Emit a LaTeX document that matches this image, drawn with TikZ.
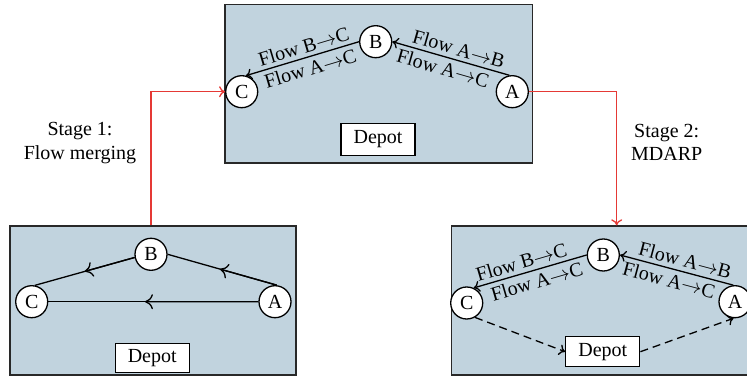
\documentclass[tikz,border=0pt]{standalone}
\usepackage{fontspec}
\setmainfont{Liberation Serif}
\usetikzlibrary{arrows.meta,calc}
\definecolor{panelfill}{RGB}{193,211,222}
\definecolor{stagered}{RGB}{229,57,53}
\definecolor{rim}{RGB}{40,40,40}
% arrow between flow end points
\newcommand{\fto}{$\to$}

\begin{document}
\begin{tikzpicture}[x=1pt,y=-1pt,
  every node/.style={font=\fontsize{20}{23.5}\selectfont},
  tip/.tip={To[length=6pt,width=11pt]},
  bigtip/.tip={To[length=8pt,width=15pt]},
  panelbox/.style={draw=rim,line width=1.4pt,fill=panelfill,inner sep=0pt},
  town/.style={circle,draw=black,line width=1.3pt,fill=white,minimum size=32pt,inner sep=0pt},
  depotbox/.style={draw=black,line width=1.3pt,fill=white,minimum width=74pt,minimum height=30pt,inner sep=0pt},
  flow/.style={line width=1.3pt},
  flowto/.style={flow,-{tip}},
  halfway/.style={flow,-{bigtip}},
  trip/.style={line width=1.3pt,dash pattern=on 8pt off 5pt,-{tip}},
  stage/.style={line width=1.3pt,draw=stagered,-{tip}},
  lbl/.style={sloped,inner sep=3.8pt},
]
\useasboundingbox (0,0) rectangle (747,379);
\clip (0,0) rectangle (747,379);

% ---------- merged flows (top panel) ----------
\node[panelbox,minimum width=307.7pt,minimum height=158.3pt] (top) at (378.8,83.8) {};
\node[town] (C0) at (241.7,91.7) {C};
\node[town] (B0) at (375.7,41.7) {B};
\node[town] (A0) at (512.3,91.7) {A};
\node[depotbox,minimum height=32pt] (D0) at (378,139.5) {Depot};
\draw[flowto] (B0.west) -- node[lbl,above,pos=0.46] {Flow B\fto C}
                           node[lbl,below,pos=0.46] {Flow A\fto C} (C0.75);
\draw[flowto] (A0.100) -- node[lbl,above,pos=0.46] {Flow A\fto B}
                          node[lbl,below,pos=0.54] {Flow A\fto C} (B0.east);

% ---------- original flows (bottom left panel) ----------
\node[panelbox,minimum width=286pt,minimum height=149pt] (left) at (153,300.5) {};
\node[town] (C1) at (31.7,301.7) {C};
\node[town] (B1) at (151,254.3) {B};
\node[town] (A1) at (275,301.7) {A};
\node[depotbox,minimum height=29pt] (D1) at (152.2,357.8) {Depot};
\draw[flow] (B1.191) -- (C1.79);
\draw[halfway] (B1.191) -- ($(B1.191)!0.5!(C1.79)$);
\draw[flow] (A1.84) -- (B1.east);
\draw[halfway] (A1.84) -- ($(A1.84)!0.52!(B1.east)$);
\draw[flow] (A1.west) -- (C1.east);
\draw[halfway] (A1.west) -- ($(A1.west)!0.54!(C1.east)$);

% ---------- routed vehicles (bottom right panel) ----------
\node[panelbox,minimum width=302pt,minimum height=149pt] (right) at (602.7,300.5) {};
\node[town] (C2) at (466.7,303) {C};
\node[town] (B2) at (603.3,255) {B};
\node[town] (A2) at (735,301.7) {A};
\node[depotbox] (D2) at (602.8,351.7) {Depot};
\draw[flowto] (B2.west) -- node[lbl,above,pos=0.55] {Flow B\fto C}
                           node[lbl,below,pos=0.47] {Flow A\fto C} (C2.65);
\draw[flowto] (A2.96) -- node[lbl,above,pos=0.45] {Flow A\fto B}
                         node[lbl,below,pos=0.54] {Flow A\fto C} (B2.east);
\draw[trip] (C2.-60) -- (D2.west);
\draw[trip] (D2.east) -- (A2.-95);

% ---------- stage connectors ----------
\node[align=center] (s1) at (80,143) {Stage 1:\\Flow merging};
\node[align=center] (s2) at (666.7,142.5) {Stage 2:\\MDARP};
\coordinate (bend2) at (616.7,91.7);
\draw[stage] (B1 |- left.north) |- (C0.west);
\draw[stage] (A0.east) -- (bend2) -- (bend2 |- right.north);
\end{tikzpicture}
\end{document}
